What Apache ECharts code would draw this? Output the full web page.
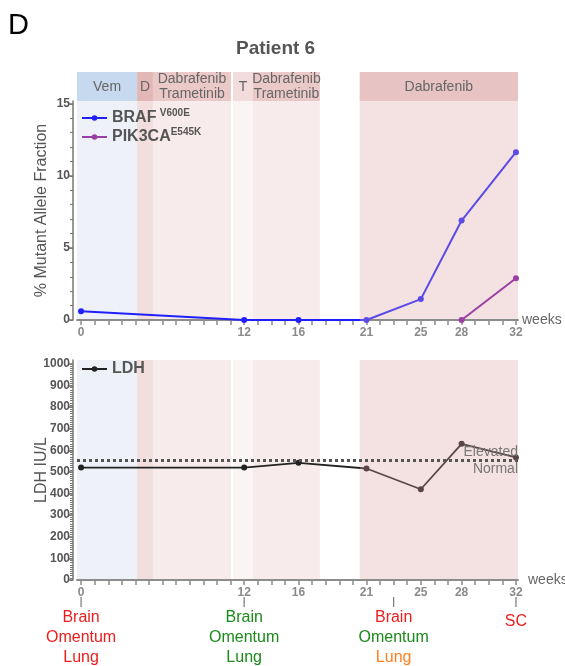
<!DOCTYPE html>
<html><head><meta charset="utf-8">
<script src="https://cdn.jsdelivr.net/npm/echarts@6/dist/echarts.min.js"></script>
<style>html,body{margin:0;padding:0;background:#fff}#c{width:565px;height:666px}</style>
</head><body><div id="c"></div><script>
// ---- data ----
const weeks = [0, 12, 16, 21, 25, 28, 32];
const brafVaf = [0.6, 0, 0, 0, 1.45, 6.9, 11.65];
const pik3caWeeks = [28, 32];
const pik3caVaf = [0, 2.9];
const ldhWeeks = [0, 12, 16, 21, 25, 28, 32];
const ldhValues = [520, 520, 542, 516, 420, 630, 567];
const ldhThreshold = 555;
const xTickLabels = [0, 12, 16, 21, 25, 28, 32];
const vafTickLabels = [0, 5, 10, 15];
const ldhTickLabels = [0, 100, 200, 300, 400, 500, 600, 700, 800, 900, 1000];
const treatStart = [-0.3, 4.12, 5.29, 11.18, 12.65, 20.5];
const treatEnd = [4.12, 5.29, 11.03, 12.65, 17.57, 32.15];
const treatLabel = ['Vem', 'D', 'Dabrafenib\nTrametinib', 'T', 'Dabrafenib\nTrametinib', 'Dabrafenib'];
const biopsyWeeks = [0, 12, 23, 32];
const biopsySites = [['Brain', 'Omentum', 'Lung'], ['Brain', 'Omentum', 'Lung'], ['Brain', 'Omentum', 'Lung'], ['SC']];
const biopsyStatus = [['prog', 'prog', 'prog'], ['resp', 'resp', 'resp'], ['prog', 'resp', 'mixed'], ['prog']];
const lastRegimenStart = treatStart[treatStart.length - 1];

// ---- styles ----
const FONT = '"Liberation Sans", Arial, sans-serif';
const headerColors = ['#c6d9ef', '#e4b7b7', '#ecc9c9', '#f3dcdc', '#ecc9c9', '#e8c3c3'];
const bodyColors = ['#eef2f8', '#f3dede', '#f7ebeb', '#fbf4f4', '#f7ebeb', '#f4e2e2'];
const statusColors = { prog: '#ee1c1c', resp: '#1a8a1a', mixed: '#ff7f1e' };
const BLUE = '#2020ff', BLUE2 = '#5b4ae6', PURPLE = '#9c3fa4', BLACK = '#222222', BROWN = '#5a4646';
const range = (a, b, s) => { const r = []; for (let v = a; v <= b + 1e-9; v += s) r.push(+v.toFixed(4)); return r; };

function splitGradient(xs, cut, c1, c2) {
  const lo = Math.min.apply(null, xs), hi = Math.max.apply(null, xs);
  const f = Math.min(1, Math.max(0, (cut - lo) / (hi - lo)));
  return new echarts.graphic.LinearGradient(0, 0, 1, 0, [
    { offset: 0, color: c1 }, { offset: f, color: c1 }, { offset: f, color: c2 }, { offset: 1, color: c2 }]);
}

function bandRender(withHeader) {
  return function (params, api) {
    const i = params.dataIndex;
    const x0 = api.coord([api.value(0), 0])[0];
    const x1 = api.coord([api.value(1), 0])[0];
    const cs = params.coordSys;
    const children = [{ type: 'rect', shape: { x: x0, y: cs.y, width: x1 - x0, height: cs.height }, style: { fill: bodyColors[i] } }];
    if (withHeader) {
      children.push({ type: 'rect', shape: { x: x0, y: cs.y - 29, width: x1 - x0, height: 29 }, style: { fill: headerColors[i] } });
      children.push({ type: 'text', x: (x0 + x1) / 2, y: cs.y - 14,
        style: { text: treatLabel[i], fill: '#666', fontSize: 14, fontFamily: FONT, align: 'center', verticalAlign: 'middle', lineHeight: 15 } });
    }
    return { type: 'group', children };
  };
}

function biopsyRender(params, api) {
  const i = params.dataIndex;
  const p = api.coord([api.value(0), 0]);
  const cs = params.coordSys;
  const base = cs.y + cs.height;
  const children = [{ type: 'line', shape: { x1: p[0], y1: base + 17, x2: p[0], y2: base + 27 }, style: { stroke: '#777', lineWidth: 1.2 } }];
  const sites = biopsySites[i];
  const first = sites.length === 1 ? 42 : 38;
  sites.forEach((s, k) => {
    children.push({ type: 'text', x: p[0], y: base + first + k * 20,
      style: { text: s, fill: statusColors[biopsyStatus[i][k]], fontSize: 16, fontFamily: FONT, align: 'center', verticalAlign: 'middle' } });
  });
  return { type: 'group', children };
}

const xAxisCommon = (grid, nameStyle) => ({
  type: 'value', gridIndex: grid, min: -0.3, max: 32.15, z: 2,
  name: 'weeks', nameLocation: 'end', nameGap: 4,
  nameTextStyle: Object.assign({ fontSize: 14, color: '#666', fontFamily: FONT }, nameStyle || {}),
  axisLine: { lineStyle: { color: '#8c8c8c', width: 2 } },
  axisTick: { customValues: range(0, 32, 1), length: 5, lineStyle: { color: '#8c8c8c', width: 1.5 } },
  axisLabel: { customValues: xTickLabels, fontSize: 12, fontWeight: 'bold', color: '#8a8a8a', fontFamily: FONT, margin: 7 },
  splitLine: { show: false }
});

const yMajor = (grid, max, labels, name, gap) => ({
  type: 'value', gridIndex: grid, min: 0, max: max, position: 'left', offset: 4, z: 2,
  name: name, nameLocation: 'middle', nameGap: gap, nameRotate: 90, nameMoveOverlap: false,
  nameTextStyle: { fontSize: 16, color: '#555', fontFamily: FONT },
  axisLine: { show: true, onZero: false, lineStyle: { color: '#777', width: 1.5 } },
  axisTick: { show: true, customValues: labels, length: 5, lineStyle: { color: '#777', width: 1.5 } },
  axisLabel: { customValues: labels, formatter: v => String(v), fontSize: 12, fontWeight: 'bold', color: '#555', fontFamily: FONT, margin: 3 },
  splitLine: { show: false }
});
const yMinor = (grid, max, ticks) => ({
  type: 'value', gridIndex: grid, min: 0, max: max, position: 'left', offset: 4, z: 2,
  axisLine: { show: false, onZero: false },
  axisTick: { show: true, customValues: ticks, length: 3, lineStyle: { color: '#777', width: 1 } },
  axisLabel: { show: false }, splitLine: { show: false }
});

const legendRich = {
  m: { fontSize: 16, fontWeight: 'bold', color: '#555', fontFamily: FONT, lineHeight: 20 },
  s: { fontSize: 10, fontWeight: 'bold', color: '#555', fontFamily: FONT, verticalAlign: 'top', lineHeight: 20 }
};

const chart = echarts.init(document.getElementById('c'), null, { renderer: 'canvas' });
chart.setOption({
  animation: false,
  backgroundColor: '#fff',
  title: [
    { text: 'D', left: 3, top: 6, textStyle: { fontSize: 29, fontWeight: 'normal', color: '#000', fontFamily: FONT } },
    { text: 'Patient 6', left: 231, top: 34, textStyle: { fontSize: 19, fontWeight: 'bold', color: '#555', fontFamily: FONT } }
  ],
  grid: [
    { left: 77, right: 47, top: 101, height: 219, outerBoundsMode: 'none', containLabel: false },
    { left: 77, right: 47, top: 360, height: 220, outerBoundsMode: 'none', containLabel: false }
  ],
  xAxis: [xAxisCommon(0), xAxisCommon(1, { padding: [0, 0, 6, 6] })],
  yAxis: [
    yMajor(0, 15.2, vafTickLabels, '% Mutant Allele Fraction', 23),
    yMinor(0, 15.2, range(0, 15, 1)),
    yMajor(1, 1018, ldhTickLabels, 'LDH IU/L', 23),
    yMinor(1, 1018, range(0, 1000, 10))
  ],
  legend: [
    { data: [{ name: 'BRAF', itemStyle: { color: BLUE }, lineStyle: { color: BLUE } },
             { name: 'PIK3CA', itemStyle: { color: PURPLE }, lineStyle: { color: PURPLE } }],
      orient: 'vertical', left: 81, top: 108, padding: 0, itemGap: 1, itemWidth: 25, itemHeight: 7,
      formatter: n => n === 'BRAF' ? '{m|BRAF} {s|V600E}' : '{m|PIK3CA}{s|E545K}',
      textStyle: { rich: legendRich } },
    { data: [{ name: 'LDH', itemStyle: { color: BLACK }, lineStyle: { color: BLACK } }],
      orient: 'vertical', left: 81, top: 361, padding: 0, itemWidth: 25, itemHeight: 7,
      formatter: n => '{m|' + n + '}', textStyle: { rich: legendRich } }
  ],
  series: [
    { type: 'custom', name: 'bandsTop', xAxisIndex: 0, yAxisIndex: 0, z: 1, silent: true, clip: false,
      renderItem: bandRender(true), encode: { x: [0, 1] },
      data: treatStart.map((s, i) => [s, treatEnd[i]]) },
    { type: 'custom', name: 'bandsBottom', xAxisIndex: 1, yAxisIndex: 2, z: 1, silent: true, clip: false,
      renderItem: bandRender(false), encode: { x: [0, 1] },
      data: treatStart.map((s, i) => [s, treatEnd[i]]) },
    { type: 'line', name: 'BRAF', xAxisIndex: 0, yAxisIndex: 0, z: 3, clip: false,
      data: weeks.map((w, i) => ({ value: [w, brafVaf[i]], itemStyle: { color: w >= lastRegimenStart ? BLUE2 : BLUE } })),
      symbol: 'circle', symbolSize: 6, itemStyle: { color: BLUE },
      lineStyle: { width: 2, color: splitGradient(weeks, lastRegimenStart, BLUE, BLUE2) } },
    { type: 'line', name: 'PIK3CA', xAxisIndex: 0, yAxisIndex: 0, z: 3, clip: false,
      data: pik3caWeeks.map((w, i) => [w, pik3caVaf[i]]),
      symbol: 'circle', symbolSize: 6, itemStyle: { color: PURPLE }, lineStyle: { width: 2, color: PURPLE } },
    { type: 'custom', name: 'biopsies', xAxisIndex: 1, yAxisIndex: 2, z: 3, silent: true, clip: false,
      renderItem: biopsyRender, encode: { x: 0 },
      data: biopsyWeeks.map(w => [w, 0]) },
    { type: 'line', name: 'LDH', xAxisIndex: 1, yAxisIndex: 2, z: 3, clip: false,
      data: ldhWeeks.map((w, i) => ({ value: [w, ldhValues[i]], itemStyle: { color: w >= lastRegimenStart ? BROWN : BLACK } })),
      symbol: 'circle', symbolSize: 6, itemStyle: { color: BLACK },
      lineStyle: { width: 1.8, color: splitGradient(ldhWeeks, lastRegimenStart, BLACK, BROWN) },
      markLine: {
        silent: true, symbol: 'none',
        lineStyle: { color: '#555', width: 3, type: [3, 3] },
        data: [
          { yAxis: ldhThreshold, label: { formatter: 'Elevated', position: 'insideEndTop', distance: [0, 1], color: '#777', fontSize: 14, fontFamily: FONT } },
          { yAxis: ldhThreshold, label: { formatter: 'Normal', position: 'insideEndBottom', distance: [0, 2], color: '#777', fontSize: 14, fontFamily: FONT } }
        ]
      } }
  ]
});
</script></body></html>
